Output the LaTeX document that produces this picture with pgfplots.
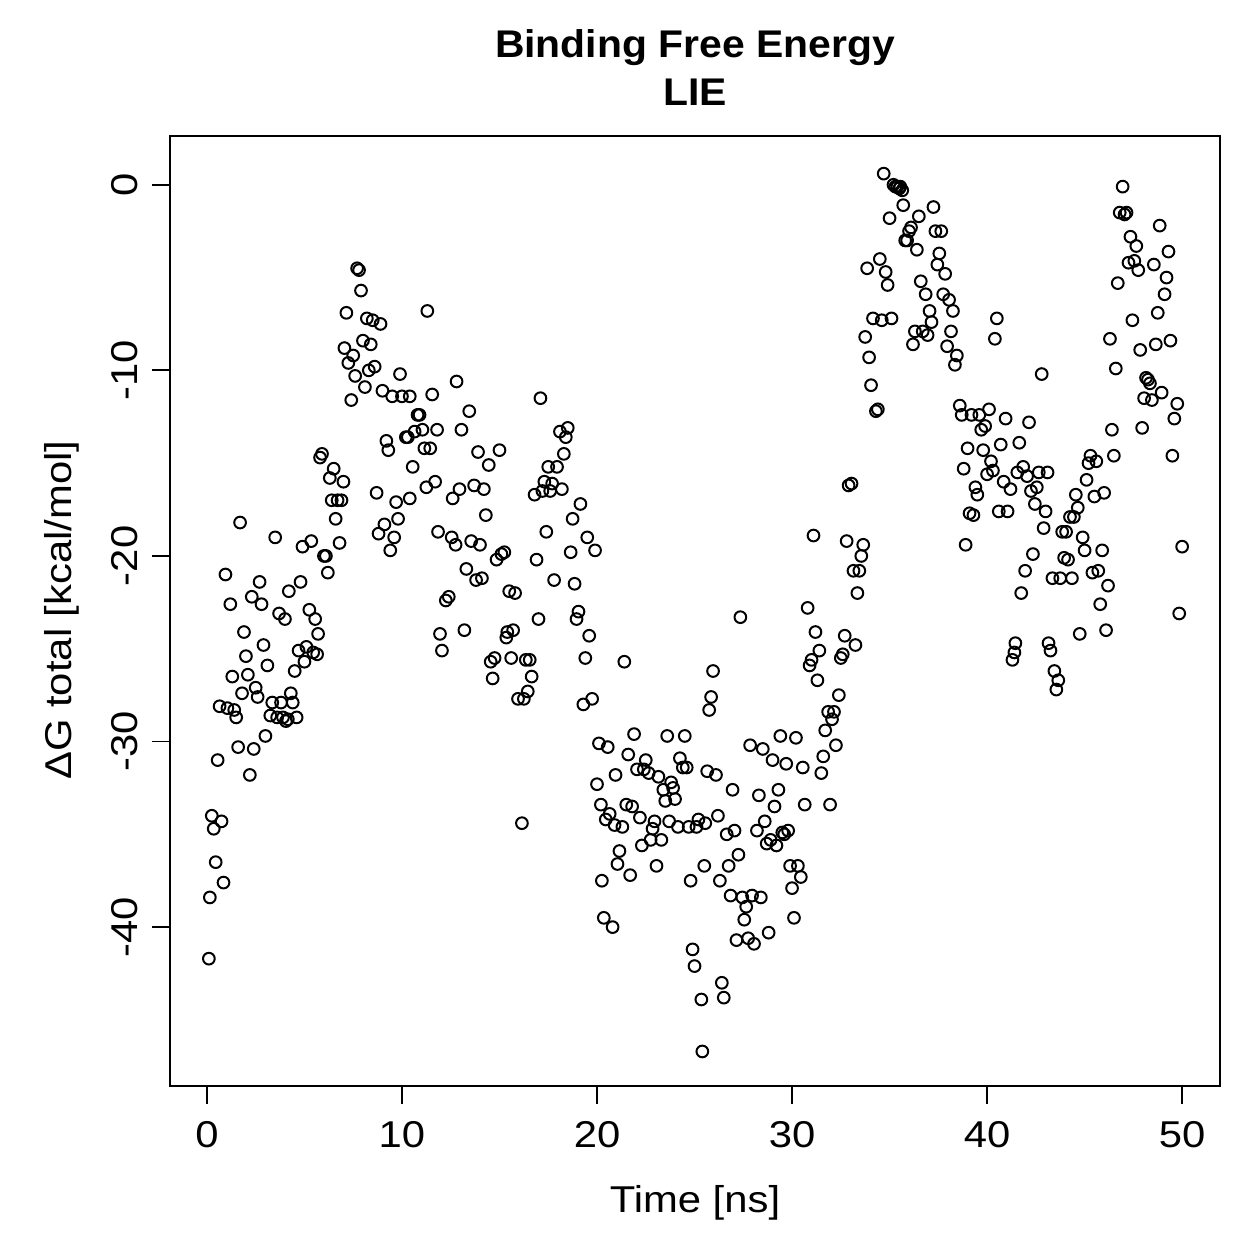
\documentclass[border=0pt]{standalone}
\usepackage{fontspec}
\setmainfont{Liberation Sans}
\newfontfamily\labfont{Liberation Sans}[FakeStretch=1.12]
\newfontfamily\titlefont{Liberation Sans}[FakeStretch=1.06]
\usepackage{pgfplots}
\pgfplotsset{compat=1.18}
\begin{document}
\begin{tikzpicture}
\useasboundingbox (-0.945in,-0.962in) rectangle (6.055in,6.038in);
\begin{axis}[
  at={(0,0)}, anchor=south west,
  scale only axis, width=5.839in, height=5.283in,
  xmin=-1.895, xmax=51.95, ymin=-48.56, ymax=2.64,
  axis line style={line width=0.75pt},
  every tick/.style={line width=0.75pt, black},
  tick align=outside, major tick length=7.2pt,
  xtick={0,10,20,30,40,50}, xticklabels={0,10,20,30,40,50},
  ytick={-40,-30,-20,-10,0}, yticklabels={-40,-30,-20,-10,0},
  xtick pos=bottom, ytick pos=left,
  tick label style={font=\labfont\fontsize{15}{17}\selectfont},
  xticklabel style={anchor=base, yshift=-17.6pt},
  yticklabel style={xshift=-6pt, rotate=90, anchor=base},
  clip=false,
]
\addplot[only marks, mark=o, mark size=2.35pt, mark options={line width=0.8pt, black}] coordinates {
(0.1,-41.7) (0.15,-38.4) (0.25,-34.0) (0.35,-34.7) (0.45,-36.5) (0.55,-31.0) (0.65,-28.1) (0.75,-34.3) (0.85,-37.6) (0.95,-21.0)
(1.05,-28.2) (1.2,-22.6) (1.3,-26.5) (1.4,-28.3) (1.5,-28.7) (1.6,-30.3) (1.7,-18.2) (1.8,-27.4) (1.9,-24.1) (2.0,-25.4)
(2.1,-26.4) (2.2,-31.8) (2.3,-22.2) (2.4,-30.4) (2.5,-27.1) (2.6,-27.6) (2.7,-21.4) (2.8,-22.6) (2.9,-24.8) (3.0,-29.7)
(3.1,-25.9) (3.25,-28.6) (3.35,-27.9) (3.5,-19.0) (3.6,-28.7) (3.7,-23.1) (3.8,-27.9) (3.9,-28.7) (4.0,-23.4) (4.05,-28.9)
(4.15,-28.8) (4.2,-21.9) (4.3,-27.4) (4.4,-27.9) (4.5,-26.2) (4.6,-28.7) (4.7,-25.1) (4.8,-21.4) (4.9,-19.5) (5.0,-25.7)
(5.1,-24.9) (5.25,-22.9) (5.35,-19.2) (5.45,-25.2) (5.55,-23.4) (5.65,-25.3) (5.7,-24.2) (5.8,-14.7) (5.9,-14.5) (6.0,-20.0)
(6.1,-20.0) (6.2,-20.9) (6.3,-15.8) (6.4,-17.0) (6.5,-15.3) (6.6,-18.0) (6.7,-17.0) (6.8,-19.3) (6.9,-17.0) (7.0,-16.0)
(7.05,-8.8) (7.15,-6.9) (7.25,-9.6) (7.4,-11.6) (7.5,-9.2) (7.6,-10.3) (7.7,-4.5) (7.8,-4.6) (7.9,-5.7) (8.0,-8.4)
(8.1,-10.9) (8.2,-7.2) (8.3,-10.0) (8.4,-8.6) (8.5,-7.3) (8.6,-9.8) (8.7,-16.6) (8.8,-18.8) (8.9,-7.5) (9.0,-11.1)
(9.1,-18.3) (9.2,-13.8) (9.3,-14.3) (9.4,-19.7) (9.5,-11.4) (9.6,-19.0) (9.7,-17.1) (9.8,-18.0) (9.9,-10.2)
(10.0,-11.4) (10.2,-13.6) (10.3,-13.6) (10.4,-11.4) (10.4,-16.9) (10.55,-15.2) (10.65,-13.3) (10.8,-12.4) (10.9,-12.4) (11.05,-13.2)
(11.15,-14.2) (11.25,-16.3) (11.3,-6.8) (11.45,-14.2) (11.55,-11.3) (11.7,-16.0) (11.8,-13.2) (11.85,-18.7) (11.95,-24.2) (12.05,-25.1)
(12.25,-22.4) (12.4,-22.2) (12.55,-19.0) (12.6,-16.9) (12.75,-19.4) (12.8,-10.6) (12.95,-16.4) (13.05,-13.2) (13.2,-24.0) (13.3,-20.7)
(13.45,-12.2) (13.55,-19.2) (13.7,-16.2) (13.8,-21.3) (13.9,-14.4) (14.0,-19.4) (14.1,-21.2) (14.2,-16.4) (14.3,-17.8) (14.45,-15.1)
(14.55,-25.7) (14.65,-26.6) (14.75,-25.5) (14.85,-20.2) (15.0,-14.3) (15.1,-19.9) (15.25,-19.8) (15.35,-24.4) (15.4,-24.1) (15.5,-21.9)
(15.6,-25.5) (15.7,-24.0) (15.8,-22.0) (15.95,-27.7) (16.15,-34.4) (16.25,-27.7) (16.35,-25.6) (16.45,-27.3) (16.55,-25.6) (16.65,-26.5)
(16.8,-16.7) (16.9,-20.2) (17.0,-23.4) (17.1,-11.5) (17.2,-16.5) (17.3,-16.0) (17.4,-18.7) (17.5,-15.2) (17.6,-16.5) (17.7,-16.1)
(17.8,-21.3) (17.95,-15.2) (18.1,-13.3) (18.2,-16.4) (18.3,-14.5) (18.4,-13.6) (18.5,-13.1) (18.65,-19.8) (18.75,-18.0) (18.85,-21.5)
(18.95,-23.4) (19.05,-23.0) (19.15,-17.2) (19.3,-28.0) (19.4,-25.5) (19.5,-19.0) (19.6,-24.3) (19.75,-27.7) (19.9,-19.7)
(20.0,-32.3) (20.1,-30.1) (20.2,-33.4) (20.25,-37.5) (20.35,-39.5) (20.45,-34.2) (20.55,-30.3) (20.65,-33.9) (20.8,-40.0) (20.9,-34.5)
(20.95,-31.8) (21.05,-36.6) (21.15,-35.9) (21.3,-34.6) (21.4,-25.7) (21.5,-33.4) (21.6,-30.7) (21.7,-37.2) (21.8,-33.5) (21.9,-29.6)
(22.05,-31.5) (22.2,-34.1) (22.3,-35.6) (22.4,-31.5) (22.5,-31.0) (22.65,-31.7) (22.75,-35.3) (22.85,-34.7) (22.95,-34.3) (23.05,-36.7)
(23.15,-31.9) (23.3,-35.3) (23.4,-32.6) (23.5,-33.2) (23.6,-29.7) (23.7,-34.3) (23.8,-32.2) (23.9,-32.5) (24.0,-33.1) (24.15,-34.6)
(24.25,-30.9) (24.4,-31.4) (24.5,-29.7) (24.6,-31.4) (24.7,-34.6) (24.8,-37.5) (24.9,-41.2) (25.0,-42.1) (25.1,-34.6) (25.2,-34.2)
(25.35,-43.9) (25.4,-46.7) (25.5,-36.7) (25.55,-34.4) (25.65,-31.6) (25.75,-28.3) (25.85,-27.6) (25.95,-26.2) (26.1,-31.8) (26.2,-34.0)
(26.3,-37.5) (26.4,-43.0) (26.5,-43.8) (26.65,-35.0) (26.75,-36.7) (26.85,-38.3) (26.95,-32.6) (27.05,-34.8) (27.15,-40.7) (27.25,-36.1)
(27.35,-23.3) (27.45,-38.4) (27.55,-39.6) (27.65,-38.9) (27.75,-40.6) (27.85,-30.2) (27.95,-38.3) (28.05,-40.9) (28.2,-34.8) (28.3,-32.9)
(28.4,-38.4) (28.5,-30.4) (28.6,-34.3) (28.7,-35.5) (28.8,-40.3) (28.9,-35.3) (29.0,-31.0) (29.1,-33.5) (29.2,-35.6) (29.3,-32.6)
(29.4,-29.7) (29.5,-34.9) (29.6,-35.0) (29.7,-31.2) (29.8,-34.8) (29.9,-36.7)
(30.0,-37.9) (30.1,-39.5) (30.2,-29.8) (30.3,-36.7) (30.45,-37.3) (30.55,-31.4) (30.65,-33.4) (30.8,-22.8) (30.9,-25.9) (31.0,-25.6)
(31.1,-18.9) (31.2,-24.1) (31.3,-26.7) (31.4,-25.1) (31.5,-31.7) (31.6,-30.8) (31.7,-29.4) (31.85,-28.4) (31.95,-33.4) (32.05,-28.8)
(32.15,-28.4) (32.25,-30.2) (32.4,-27.5) (32.5,-25.5) (32.6,-25.3) (32.7,-24.3) (32.8,-19.2) (32.9,-16.2) (33.05,-16.1) (33.15,-20.8)
(33.25,-24.8) (33.35,-22.0) (33.45,-20.8) (33.55,-20.0) (33.65,-19.4) (33.75,-8.2) (33.85,-4.5) (33.95,-9.3) (34.05,-10.8) (34.15,-7.2)
(34.3,-12.2) (34.4,-12.1) (34.5,-4.0) (34.6,-7.3) (34.7,0.6) (34.8,-4.7) (34.9,-5.4) (35.0,-1.8) (35.1,-7.2) (35.2,0.0)
(35.3,-0.1) (35.4,-0.1) (35.5,-0.2) (35.55,-0.1) (35.65,-0.3) (35.7,-1.1) (35.8,-3.0) (35.9,-3.0) (36.0,-2.5) (36.1,-2.3)
(36.2,-8.6) (36.3,-7.9) (36.4,-3.5) (36.5,-1.7) (36.6,-5.2) (36.7,-7.9) (36.85,-5.9) (36.95,-8.1) (37.05,-6.8) (37.15,-7.4)
(37.25,-1.2) (37.35,-2.5) (37.45,-4.3) (37.55,-3.7) (37.65,-2.5) (37.75,-5.9) (37.85,-4.8) (37.95,-8.7) (38.05,-6.2) (38.15,-7.9)
(38.25,-6.8) (38.35,-9.7) (38.45,-9.2) (38.6,-11.9) (38.7,-12.4) (38.8,-15.3) (38.9,-19.4) (39.0,-14.2) (39.1,-17.7) (39.2,-12.4)
(39.3,-17.8) (39.4,-16.3) (39.5,-16.7) (39.6,-12.4) (39.7,-13.2) (39.8,-14.3) (39.9,-13.0) (40.0,-15.6)
(40.1,-12.1) (40.2,-14.9) (40.3,-15.4) (40.4,-8.3) (40.5,-7.2) (40.6,-17.6) (40.7,-14.0) (40.85,-16.0) (40.95,-12.6) (41.05,-17.6)
(41.2,-16.4) (41.3,-25.6) (41.4,-25.2) (41.45,-24.7) (41.55,-15.5) (41.65,-13.9) (41.75,-22.0) (41.85,-15.2) (41.95,-20.8) (42.05,-15.7)
(42.15,-12.8) (42.25,-16.5) (42.35,-19.9) (42.45,-17.2) (42.55,-16.3) (42.65,-15.5) (42.8,-10.2) (42.9,-18.5) (43.0,-17.6) (43.1,-15.5)
(43.15,-24.7) (43.25,-25.1) (43.35,-21.2) (43.45,-26.2) (43.55,-27.2) (43.65,-26.7) (43.75,-21.2) (43.85,-18.7) (43.95,-20.1) (44.05,-18.7)
(44.15,-20.2) (44.25,-17.9) (44.35,-21.2) (44.45,-17.9) (44.55,-16.7) (44.65,-17.4) (44.75,-24.2) (44.9,-19.0) (45.0,-19.7) (45.1,-15.9)
(45.2,-15.0) (45.3,-14.6) (45.4,-20.9) (45.5,-16.8) (45.6,-14.9) (45.7,-20.8) (45.8,-22.6) (45.9,-19.7) (46.0,-16.6) (46.1,-24.0)
(46.2,-21.6) (46.3,-8.3) (46.4,-13.2) (46.5,-14.6) (46.6,-9.9) (46.7,-5.3) (46.8,-1.5) (46.95,-0.1) (47.05,-1.6) (47.15,-1.5)
(47.25,-4.2) (47.35,-2.8) (47.45,-7.3) (47.55,-4.1) (47.65,-3.3) (47.75,-4.6) (47.85,-8.9) (47.95,-13.1) (48.05,-11.5) (48.15,-10.4)
(48.25,-10.5) (48.35,-10.7) (48.45,-11.6) (48.55,-4.3) (48.65,-8.6) (48.75,-6.9) (48.85,-2.2) (48.95,-11.2) (49.1,-5.9) (49.2,-5.0)
(49.3,-3.6) (49.4,-8.4) (49.5,-14.6) (49.6,-12.6) (49.75,-11.8) (49.85,-23.1) (50.0,-19.5)
};
\end{axis}
\node[font=\titlefont\bfseries\fontsize{15.5}{18}\selectfont, anchor=base] at (2.919in,5.721in) {Binding Free Energy};
\node[font=\titlefont\bfseries\fontsize{15.5}{18}\selectfont, anchor=base] at (2.919in,5.449in) {LIE};
\node[font=\labfont\fontsize{15}{17}\selectfont, anchor=base] at (2.919in,-0.705in) {Time [ns]};
\node[font=\labfont\fontsize{15}{17}\selectfont, rotate=90, anchor=base] at (-0.55in,2.646in) {ΔG total [kcal/mol]};
\end{tikzpicture}
\end{document}
